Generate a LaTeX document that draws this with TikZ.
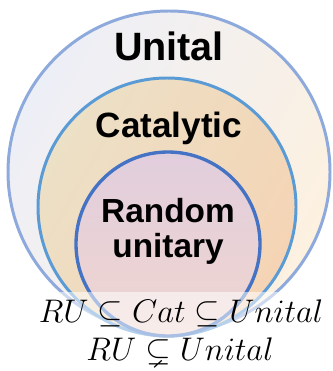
\RequirePackage{fix-cm}
\documentclass[tikz,border=0pt]{standalone}
\usepackage{amsmath}
\usepackage{amssymb}
\usepackage{fontspec}
\setsansfont{Liberation Sans}
\usepackage{tikz}
\usetikzlibrary{positioning}

\definecolor{unitalline}{HTML}{8EA9DB}
\definecolor{catline}{HTML}{5B9BD5}
\definecolor{ruline}{HTML}{4472C4}
\definecolor{unitalA}{HTML}{EDEFF7}
\definecolor{unitalB}{HTML}{FDF1E0}
\definecolor{catA}{HTML}{ECE0C6}
\definecolor{catB}{HTML}{F5D4B5}
\definecolor{ruA}{HTML}{E1CEDD}
\definecolor{ruB}{HTML}{F0D5D0}

\tikzset{
  setlabel/.style={font=\sffamily\bfseries, text=black, align=center, inner sep=0pt},
  relation/.style={inner sep=0pt, anchor=base}
}

\begin{document}
\begin{tikzpicture}[x=0.02cm, y=-0.02cm]
        \useasboundingbox (0,0) rectangle (333,371);

        % the three sets
        \draw[unitalline, line width=1.7pt, left color=unitalA, right color=unitalB,
              shading angle=60] (169,172) circle (161);
        \draw[catline, line width=1.7pt, left color=catA, right color=catB,
              shading angle=60] (167,207) circle (129);
        \draw[ruline, line width=1.9pt, top color=ruA, bottom color=ruB]
              (168,244) circle (92);

        % white band behind the relations
        \fill[white, opacity=0.55] (28,292) rectangle (333,371);

        \node[setlabel, font=\sffamily\bfseries\fontsize{22.5}{25}\selectfont] (U) at (169,46) {Unital};
        \node[setlabel, font=\sffamily\bfseries\fontsize{20}{22}\selectfont] (C) at (169,128) {Catalytic};
        \node[setlabel, font=\sffamily\bfseries\fontsize{19}{20}\selectfont] (RU) at (168,231) {Random\\unitary};

        \node[relation, font=\fontsize{18.6}{22}\selectfont] (rel1) at (181,322) {$RU \subseteq Cat \subseteq Unital$};
        \node[relation, font=\fontsize{18.6}{22}\selectfont] (rel2) at (180,360) {$RU \subsetneq Unital$};
    \end{tikzpicture}
\end{document}
